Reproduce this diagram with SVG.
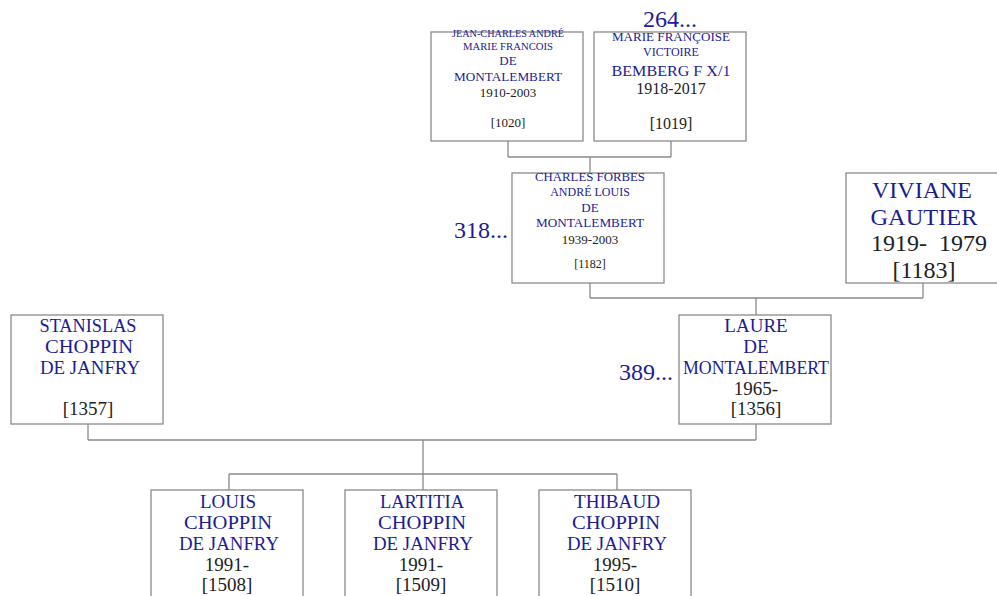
<svg xmlns="http://www.w3.org/2000/svg" width="997" height="596" viewBox="0 0 997 596">
<style>
.box{fill:#fff;stroke:#8a8a8a;stroke-width:1.3}
.con{fill:none;stroke:#8a8a8a;stroke-width:1.3}
text{font-family:"Liberation Serif","DejaVu Serif",serif;text-anchor:middle}
.n{fill:#1c1c94}
.d{fill:#222}
.big{fill:#1c1c94;font-size:24px}
</style>
<rect width="997" height="596" fill="#fff"/>
<g id="connectors">
<path class="con" d="M508 141V157M671 141V157M508 157H671M590 157V173"/>
<path class="con" d="M590 283V298M923 283V298M590 298H923M756 298V315"/>
<path class="con" d="M88 424V440M756 424V440M88 440H756M423 440V474M229 474H617M229 474V490M423 474V490M617 474V490"/>
</g>
<g id="n1020">
<rect class="box" x="431" y="32" width="152" height="109"/>
<text class="n" x="508" y="37" font-size="11" textLength="112" lengthAdjust="spacingAndGlyphs">JEAN-CHARLES ANDRÉ</text>
<text class="n" x="508" y="50" font-size="11" textLength="90" lengthAdjust="spacingAndGlyphs">MARIE FRANCOIS</text>
<text class="n" x="508" y="65" font-size="13">DE</text>
<text class="n" x="508" y="81" font-size="13" textLength="108" lengthAdjust="spacingAndGlyphs">MONTALEMBERT</text>
<text class="d" x="508" y="97" font-size="13">1910-2003</text>
<text class="d" x="508" y="127" font-size="13">[1020]</text>
</g>
<g id="n1019">
<rect class="box" x="594" y="32" width="152" height="109"/>
<text class="n" x="671" y="41" font-size="12" textLength="118" lengthAdjust="spacingAndGlyphs">MARIE FRANÇOISE</text>
<text class="n" x="671" y="56" font-size="12">VICTOIRE</text>
<text class="n" x="671" y="76" font-size="15" textLength="119" lengthAdjust="spacingAndGlyphs">BEMBERG F X/1</text>
<text class="d" x="671" y="94" font-size="16">1918-2017</text>
<text class="d" x="671" y="129" font-size="16">[1019]</text>
</g>
<text class="big" x="670" y="27">264...</text>
<g id="n1182">
<rect class="box" x="512" y="173" width="152" height="110"/>
<text class="n" x="590" y="181" font-size="12" textLength="110" lengthAdjust="spacingAndGlyphs">CHARLES FORBES</text>
<text class="n" x="590" y="196" font-size="12">ANDRÉ LOUIS</text>
<text class="n" x="590" y="212" font-size="13">DE</text>
<text class="n" x="590" y="227" font-size="13" textLength="108" lengthAdjust="spacingAndGlyphs">MONTALEMBERT</text>
<text class="d" x="590" y="244" font-size="13">1939-2003</text>
<text class="d" x="590" y="268" font-size="12">[1182]</text>
</g>
<text class="big" x="481" y="238">318...</text>
<g id="n1183">
<rect class="box" x="846" y="173" width="152" height="110"/>
<text class="n" x="922" y="198" font-size="24" textLength="100" lengthAdjust="spacingAndGlyphs">VIVIANE</text>
<text class="n" x="924" y="225" font-size="24" textLength="107" lengthAdjust="spacingAndGlyphs">GAUTIER</text>
<text class="d" x="929" y="251" font-size="24" xml:space="preserve">1919-  1979</text>
<text class="d" x="924" y="278" font-size="24">[1183]</text>
</g>
<g id="n1357">
<rect class="box" x="11" y="315" width="152" height="109"/>
<text class="n" x="88" y="332" font-size="19" textLength="97" lengthAdjust="spacingAndGlyphs">STANISLAS</text>
<text class="n" x="89" y="353" font-size="19" textLength="88" lengthAdjust="spacingAndGlyphs">CHOPPIN</text>
<text class="n" x="90" y="374" font-size="19" textLength="100" lengthAdjust="spacingAndGlyphs">DE JANFRY</text>
<text class="d" x="88" y="415" font-size="19">[1357]</text>
</g>
<g id="n1356">
<rect class="box" x="679" y="315" width="152" height="109"/>
<text class="n" x="756" y="332" font-size="19">LAURE</text>
<text class="n" x="756" y="353" font-size="19">DE</text>
<text class="n" x="756" y="374" font-size="19" textLength="146" lengthAdjust="spacingAndGlyphs">MONTALEMBERT</text>
<text class="d" x="756" y="395" font-size="19">1965-</text>
<text class="d" x="756" y="415" font-size="19">[1356]</text>
</g>
<text class="big" x="646" y="380">389...</text>
<g id="n1508">
<rect class="box" x="151" y="490" width="152" height="110"/>
<text class="n" x="228" y="508" font-size="19">LOUIS</text>
<text class="n" x="228" y="529" font-size="19" textLength="88" lengthAdjust="spacingAndGlyphs">CHOPPIN</text>
<text class="n" x="229" y="550" font-size="19" textLength="100" lengthAdjust="spacingAndGlyphs">DE JANFRY</text>
<text class="d" x="227" y="571" font-size="19">1991-</text>
<text class="d" x="227" y="591" font-size="19">[1508]</text>
</g>
<g id="n1509">
<rect class="box" x="345" y="490" width="152" height="110"/>
<text class="n" x="422" y="508" font-size="19" textLength="84" lengthAdjust="spacingAndGlyphs">LARTITIA</text>
<text class="n" x="422" y="529" font-size="19" textLength="88" lengthAdjust="spacingAndGlyphs">CHOPPIN</text>
<text class="n" x="423" y="550" font-size="19" textLength="100" lengthAdjust="spacingAndGlyphs">DE JANFRY</text>
<text class="d" x="421" y="571" font-size="19">1991-</text>
<text class="d" x="421" y="591" font-size="19">[1509]</text>
</g>
<g id="n1510">
<rect class="box" x="539" y="490" width="152" height="110"/>
<text class="n" x="617" y="508" font-size="19" textLength="86" lengthAdjust="spacingAndGlyphs">THIBAUD</text>
<text class="n" x="616" y="529" font-size="19" textLength="88" lengthAdjust="spacingAndGlyphs">CHOPPIN</text>
<text class="n" x="617" y="550" font-size="19" textLength="100" lengthAdjust="spacingAndGlyphs">DE JANFRY</text>
<text class="d" x="615" y="571" font-size="19">1995-</text>
<text class="d" x="615" y="591" font-size="19">[1510]</text>
</g>
</svg>
